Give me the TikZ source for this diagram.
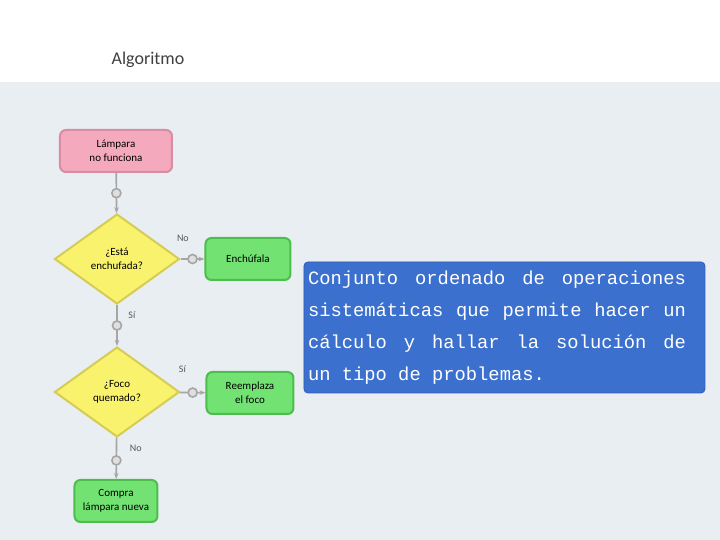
\documentclass[tikz,border=0pt]{standalone}
\usepackage{fontspec}
\setmainfont{Carlito}
\newfontfamily\boxmono[WordSpace={1,1.5,0.3}]{Liberation Mono}
\usetikzlibrary{shapes.geometric,arrows.meta}

\definecolor{panelbg}{HTML}{E9EEF3}
\definecolor{startfill}{HTML}{F5A9BC}
\definecolor{startline}{HTML}{D98CA2}
\definecolor{askfill}{HTML}{F8F26C}
\definecolor{askline}{HTML}{D6CC55}
\definecolor{endfill}{HTML}{72E272}
\definecolor{endline}{HTML}{4DBE4D}
\definecolor{notefill}{HTML}{3C70CE}
\definecolor{noteline}{HTML}{2E5DB3}

\tikzset{
  startbox/.style={draw=startline, fill=startfill, line width=1pt, rounded corners=3pt,
    minimum width=56pt, minimum height=21pt, align=center, font=\fontsize{5.5}{7}\selectfont},
  askbox/.style={diamond, draw=askline, fill=askfill, line width=1pt, aspect=1.4, inner sep=0pt,
    minimum width=62.5pt, minimum height=45pt, align=center, font=\fontsize{5.5}{7}\selectfont},
  endbox/.style={draw=endline, fill=endfill, line width=1pt, rounded corners=3pt,
    minimum height=21pt, align=center, font=\fontsize{5.5}{7}\selectfont},
  conn/.style={draw=gray!70, line width=0.8pt, -{Stealth[length=3pt]}},
  knot/.style={circle, draw=gray!70, fill=gray!25, inner sep=1.6pt},
  tag/.style={font=\fontsize{5}{6}\selectfont, text=gray!70!black},
}

\begin{document}
\begin{tikzpicture}[x=.5pt, y=-.5pt]
\useasboundingbox (0,0) rectangle (720,540);
\fill[white] (0,0) rectangle (720,540);
\fill[panelbg] (0,82) rectangle (720,540);
\node[font=\fontsize{9}{10}\selectfont, text=black!75] (title) at (148,60) {Algoritmo};

% flow chart
\node[startbox] (lamp) at (116,151) {Lámpara\\no funciona};
\node[askbox] (plug) at (117,259) {¿Está\\enchufada?};
\node[endbox, minimum width=42.5pt] (plugin) at (248,259) {Enchúfala};
\node[askbox] (bulb) at (117,392) {¿Foco\\quemado?};
\node[endbox, minimum width=43.5pt] (swap) at (250,393) {Reemplaza\\el foco};
\node[endbox, minimum width=41.5pt] (buy) at (116,501) {Compra\\lámpara nueva};

\draw[conn] (lamp) -- node[knot] (k1) {} (plug);
\draw[conn] (plug) -- node[knot] (k2) {} node[tag, pos=.25, right=2pt] {Sí} (bulb);
\draw[conn] (plug) -- node[knot] (k3) {} node[tag, pos=.1, above=5pt] {No} (plugin);
\draw[conn] (bulb) -- node[knot] (k4) {} node[tag, pos=.1, above=6pt] {Sí} (swap);
\draw[conn] (bulb) -- node[knot, pos=.55] (k5) {} node[tag, pos=.25, right=3pt] {No} (buy);

% definition
\node[draw=noteline, fill=notefill, rounded corners=2pt, minimum width=200.5pt, minimum height=65.5pt]
  (notebox) at (504.5,327.5) {};
\node[anchor=west, text width=189pt, align=justify, text=white, inner sep=0pt,
  font=\boxmono\fontsize{9.4}{16}\selectfont] (note) at ([xshift=2pt]notebox.west)
  {Conjunto ordenado de operaciones sistemáticas que permite hacer un cálculo y hallar la solución de un tipo de problemas.};
\end{tikzpicture}
\end{document}
